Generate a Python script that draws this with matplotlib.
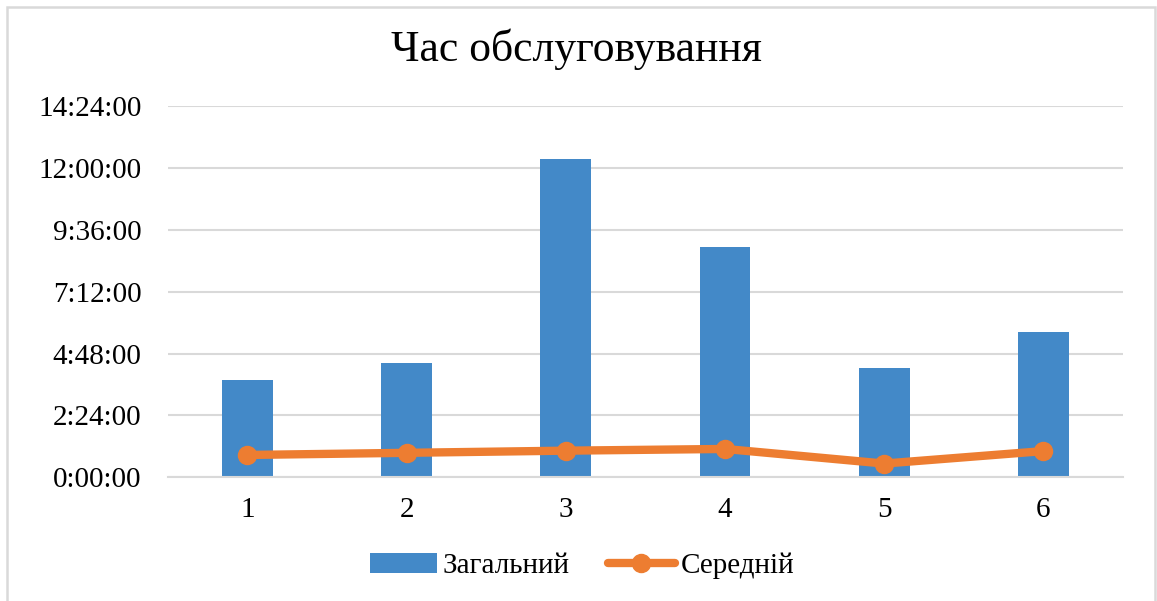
import numpy as np
import pandas as pd
import matplotlib
matplotlib.use('Agg')
import matplotlib.pyplot as plt
from matplotlib.ticker import FuncFormatter, MultipleLocator
from matplotlib.patches import Rectangle

plt.rcParams['font.family'] = ['Liberation Serif', 'DejaVu Serif']

# service time per point: total and average
categories = ['1', '2', '3', '4', '5', '6']
total_time = ['3:46:00', '4:26:00', '12:20:00', '8:56:00', '4:14:00', '5:38:00']
mean_time = ['0:52:00', '0:57:00', '1:02:00', '1:06:00', '0:32:00', '1:01:00']

total_h = pd.to_timedelta(total_time).total_seconds().to_numpy() / 3600
mean_h = pd.to_timedelta(mean_time).total_seconds().to_numpy() / 3600

blue = '#4389c8'
orange = '#ed7d31'
grid_c = '#d9d9d9'


def hms(v, pos=None):
    s = int(round(v * 3600))
    return f'{s // 3600}:{(s % 3600) // 60:02d}:{s % 60:02d}'


fig = plt.figure(figsize=(11.57, 6.01), dpi=100)
ax = fig.add_axes([0.145, 0.2058, 0.8256, 0.6178])

x = np.arange(len(categories))
bars = ax.bar(x, total_h, width=0.32, color=blue, zorder=2, label='Загальний')
line, = ax.plot(x, mean_h, color=orange, lw=6, marker='o', ms=13, zorder=3,
                solid_capstyle='round', label='Середній')

ax.set_xlim(-0.5, len(categories) - 0.5)
ax.set_ylim(0, 14.4)
ax.yaxis.set_major_locator(MultipleLocator(2.4))
ax.yaxis.set_major_formatter(FuncFormatter(hms))
ax.set_xticks(x)
ax.set_xticklabels(categories)

ax.grid(axis='y', color=grid_c, lw=1.5, zorder=0)
for sp in ['top', 'right', 'left']:
    ax.spines[sp].set_visible(False)
ax.spines['bottom'].set_color(grid_c)
ax.spines['bottom'].set_linewidth(1.5)
ax.tick_params(axis='both', length=0, labelsize=21, colors='#000000')
ax.tick_params(axis='y', pad=19)
ax.tick_params(axis='x', pad=14)

fig.text(0.4985, 0.918, 'Час обслуговування', fontsize=31.5, ha='center', va='center')

fig.legend([bars, line], ['Загальний', 'Середній'], loc='center',
           bbox_to_anchor=(0.503, 0.058), ncol=2, frameon=False,
           fontsize=21, handlelength=2.3, handletextpad=0.2, columnspacing=1.3)

# chart frame
fig.patches.append(Rectangle((7 / 1157, -0.02), 1148 / 1157, 1.02 - 7 / 601,
                             transform=fig.transFigure, fill=False,
                             edgecolor=grid_c, lw=1.8))

fig.savefig('out.png', dpi=100)
